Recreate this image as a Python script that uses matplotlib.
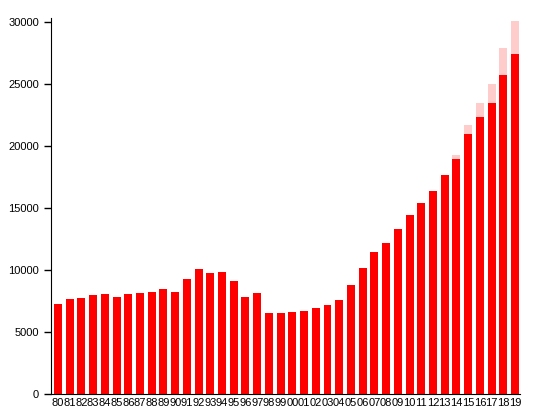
import numpy as np
from matplotlib import pyplot as plt

plt.rcParams['font.family'] = ['Liberation Sans', 'DejaVu Sans']

years = ['80', '81', '82', '83', '84', '85', '86', '87', '88', '89',
         '90', '91', '92', '93', '94', '95', '96', '97', '98', '99',
         '00', '01', '02', '03', '04', '05', '06', '07', '08', '09',
         '10', '11', '12', '13', '14', '15', '16', '17', '18', '19']
base = [7260, 7660, 7740, 7980, 8070, 7820, 8070, 8150, 8230, 8470,
        8230, 9270, 10080, 9760, 9840, 9110, 7820, 8150, 6530, 6530,
        6610, 6690, 6940, 7180, 7580, 8790, 10160, 11450, 12150, 13310,
        14440, 15400, 16370, 17660, 18950, 20970, 22340, 23470, 25730, 27420]
# lighter part stacked on top (only recent years)
extra = [0] * 34 + [330, 720, 1130, 1530, 2170, 2660]

x = np.arange(len(years))
fig = plt.figure(figsize=(5.38, 4.08), dpi=100)
ax = fig.add_axes([0.0942, 0.0343, 0.8718, 0.9217])

ax.bar(x, base, width=0.68, color='#ff0000')
ax.bar(x, extra, width=0.68, bottom=base, color='#ffcccc')

ax.set_xlim(-0.62, 39.4)
ax.set_ylim(0, 30320)
ax.set_xticks(x)
ax.set_xticklabels(years, fontsize=8)
ax.set_yticks([0, 5000, 10000, 15000, 20000, 25000, 30000])
ax.tick_params(axis='y', labelsize=8, length=5, width=1)
ax.tick_params(axis='x', length=0, pad=3)
ax.spines['top'].set_visible(False)
ax.spines['right'].set_visible(False)

plt.savefig('out.png')
